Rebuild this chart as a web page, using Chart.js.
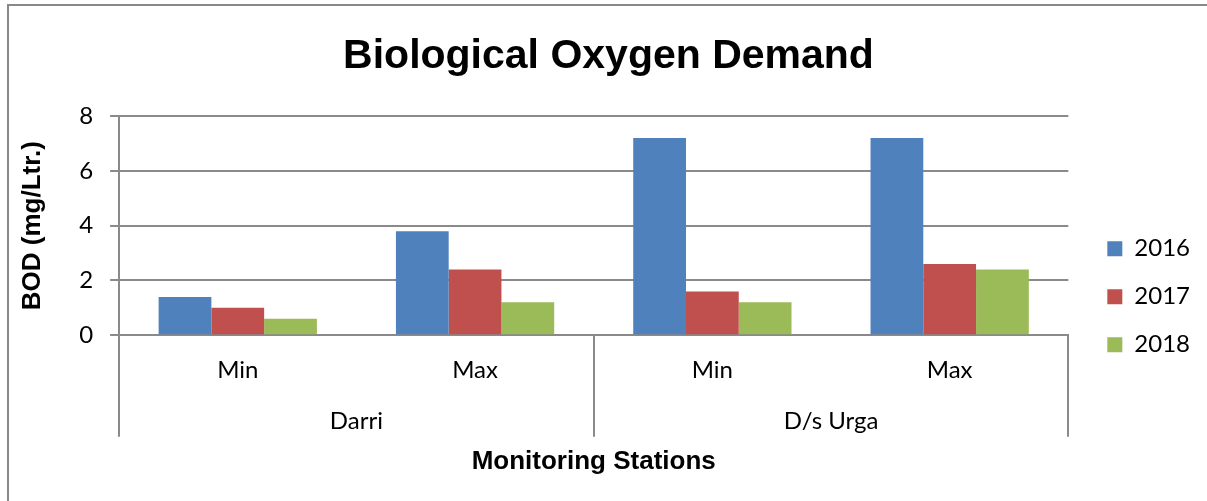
<!DOCTYPE html>
<html lang="en">
<head>
  <meta charset="UTF-8" />
  <title>Biological Oxygen Demand</title>
  <style>
    body, html {
      margin: 0;
      padding: 0;
      background: #fff;
      overflow: hidden;
    }
    .frame {
      position: absolute;
      left: 7px;
      top: 4px;
      width: 1400px;
      height: 700px;
      border-left: 2px solid #888;
      border-top: 2px solid #888;
    }
    #chart-box {
      position: absolute;
      left: 0;
      top: 0;
      width: 1207px;
      height: 501px;
    }
  </style>
</head>
<body>

<div class="frame"></div>
<div id="chart-box">
  <canvas id="bodChart" width="1207" height="501"></canvas>
</div>

<script src="https://cdn.jsdelivr.net/npm/chart.js"></script>
<script>
  const levels = ['Min', 'Max', 'Min', 'Max'];
  const stations = ['Darri', 'D/s Urga'];
  const years = ['2016', '2017', '2018'];
  const bod2016 = [1.4, 3.8, 7.2, 7.2];
  const bod2017 = [1.0, 2.4, 1.6, 2.6];
  const bod2018 = [0.6, 1.2, 1.2, 2.4];
  const yTicks = [0, 2, 4, 6, 8];

  const colors = ['#4F81BD', '#C0504D', '#9BBB59'];
  const gridColor = '#8a8a8a';
  const tickFont = { family: 'Lato', size: 24 };
  const boldFont = { family: 'Liberation Sans', size: 26, weight: 'bold' };
  const xTitlePad = { top: 9, bottom: 0 };

  // lines under the plot: the y axis going down and the station dividers
  const groupLines = {
    id: 'groupLines',
    afterDraw(chart) {
      const x2 = chart.scales.x2;
      const area = chart.chartArea;
      const half = (x2.getPixelForValue(1) - x2.getPixelForValue(0)) / 2;
      const end = x2.bottom - (boldFont.size * 1.2 + xTitlePad.top + xTitlePad.bottom);
      const ctx = chart.ctx;
      ctx.save();
      ctx.strokeStyle = gridColor;
      ctx.lineWidth = 2;
      ctx.beginPath();
      for (let i = 0; i < stations.length; i++) {
        const c = x2.getPixelForValue(i);
        [c - half, c + half].forEach(function (px) {
          ctx.moveTo(Math.round(px), area.bottom);
          ctx.lineTo(Math.round(px), end);
        });
      }
      ctx.stroke();
      ctx.restore();
    }
  };

  const ctx = document.getElementById('bodChart').getContext('2d');
  new Chart(ctx, {
    type: 'bar',
    data: {
      labels: levels,
      datasets: [
        { label: years[0], data: bod2016, backgroundColor: colors[0] },
        { label: years[1], data: bod2017, backgroundColor: colors[1] },
        { label: years[2], data: bod2018, backgroundColor: colors[2] }
      ]
    },
    options: {
      responsive: false,
      animation: false,
      datasets: {
        bar: { categoryPercentage: 0.667, barPercentage: 1.0 }
      },
      layout: {
        padding: { left: 17, right: 7, top: 0, bottom: 24 }
      },
      plugins: {
        title: {
          display: true,
          text: 'Biological Oxygen Demand',
          color: '#000',
          font: { family: 'Liberation Sans', size: 41, weight: 'bold' },
          padding: { top: 32, bottom: 35 }
        },
        legend: {
          position: 'right',
          title: { display: true, text: '', font: { size: 12 }, padding: { top: 102, bottom: 0 } },
          labels: {
            color: '#000',
            font: tickFont,
            boxWidth: 15,
            boxHeight: 15,
            padding: 24
          }
        },
        tooltip: { enabled: false }
      },
      scales: {
        x: {
          grid: { display: false, drawTicks: false },
          border: { display: true, color: gridColor, width: 2 },
          ticks: { color: '#000', font: tickFont, padding: 21 }
        },
        x2: {
          type: 'category',
          labels: stations,
          position: 'bottom',
          offset: true,
          grid: { display: false, drawTicks: false },
          border: { display: false },
          ticks: { color: '#000', font: tickFont, padding: 1 },
          title: {
            display: true,
            text: 'Monitoring Stations',
            color: '#000',
            font: boldFont,
            padding: xTitlePad
          }
        },
        y: {
          min: 0,
          max: 8,
          afterBuildTicks(axis) {
            axis.ticks = yTicks.map(function (v) { return { value: v }; });
          },
          grid: { color: gridColor, lineWidth: 2, tickLength: 9 },
          border: { display: true, color: gridColor, width: 2 },
          ticks: { color: '#000', font: tickFont, padding: 17 },
          title: {
            display: true,
            text: 'BOD (mg/Ltr.)',
            color: '#000',
            font: boldFont,
            padding: { top: 0, bottom: 14 }
          }
        },
        // empty right axis, only keeps a gap between the plot and the legend
        gap: {
          type: 'linear',
          position: 'right',
          grid: { display: false, drawTicks: false },
          border: { display: false },
          ticks: { display: false },
          afterFit(scale) { scale.width = 15; }
        }
      }
    },
    plugins: [groupLines]
  });
</script>
</body>
</html>
